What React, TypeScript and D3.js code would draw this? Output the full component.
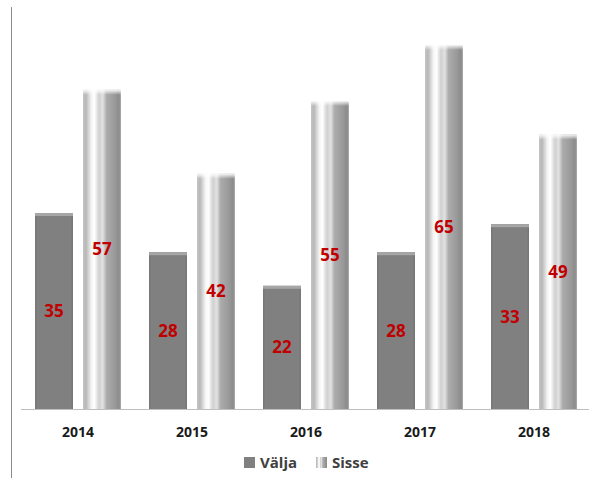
import React from 'react';
import * as d3 from 'd3';

const years = ['2014', '2015', '2016', '2017', '2018'];
const valja = [35, 28, 22, 28, 33];
const sisse = [57, 42, 55, 65, 49];
const seriesNames = ['Välja', 'Sisse'];

const W = 596;
const H = 479;
const FONT = '"Open Sans", "Noto Sans", sans-serif';

export default function App() {
  const baseY = 409;

  /* ── Scales ─────────────────────────────────────────────────── */
  const x = d3.scaleBand<string>().domain(years).range([21, 591]).paddingInner(0).paddingOuter(0);
  const y = d3.scaleLinear().domain([0, 65]).range([baseY, 45]);

  const step = x.bandwidth();
  const barW = 38;
  const gap = 10;

  return (
    <svg width={W} height={H} style={{ position: 'absolute', left: 0, top: 0, background: '#fff' }}>
      <defs>
        <linearGradient id="cyl" x1="0" x2="1" y1="0" y2="0">
          <stop offset="0" stopColor="#c4c4c4" />
          <stop offset="0.08" stopColor="#b8b8b8" />
          <stop offset="0.22" stopColor="#f4f4f4" />
          <stop offset="0.3" stopColor="#ffffff" />
          <stop offset="0.42" stopColor="#d0d0d0" />
          <stop offset="0.52" stopColor="#e2e2e2" />
          <stop offset="0.62" stopColor="#acacac" />
          <stop offset="0.85" stopColor="#989898" />
          <stop offset="0.95" stopColor="#8a8a8a" />
          <stop offset="1" stopColor="#adadad" />
        </linearGradient>
        <linearGradient id="cylTop" x1="0" x2="0" y1="0" y2="1">
          <stop offset="0" stopColor="#ffffff" stopOpacity="0.9" />
          <stop offset="1" stopColor="#ffffff" stopOpacity="0" />
        </linearGradient>
        <linearGradient id="flat" x1="0" x2="1" y1="0" y2="0">
          <stop offset="0" stopColor="#747474" />
          <stop offset="0.06" stopColor="#808080" />
          <stop offset="0.94" stopColor="#808080" />
          <stop offset="1" stopColor="#747474" />
        </linearGradient>
      </defs>

      {/* frame line on the left */}
      <line x1={11.5} x2={11.5} y1={7} y2={478} stroke="#8c8c8c" strokeWidth={1} />

      {years.map((yr, i) => {
        const cx = (x(yr) ?? 0) + step / 2;
        const vx = cx - gap / 2 - barW;
        const sx = cx + gap / 2;
        const vy = y(valja[i]);
        const sy = y(sisse[i]);
        return (
          <g key={yr}>
            {/* Välja */}
            <rect x={vx} y={vy} width={barW} height={baseY - vy} fill="url(#flat)" />
            <rect x={vx} y={vy} width={barW} height={3} fill="#a6a6a6" />
            {/* Sisse */}
            <rect x={sx} y={sy} width={barW} height={baseY - sy} fill="url(#cyl)" />
            <rect x={sx} y={sy} width={barW} height={5} fill="url(#cylTop)" />
            <text
              x={vx + barW / 2}
              y={(vy + baseY) / 2}
              dy="0.35em"
              textAnchor="middle"
              fontFamily={FONT}
              fontWeight={700}
              fontSize={17}
              fill="#c00000"
            >
              {valja[i]}
            </text>
            <text
              x={sx + barW / 2}
              y={(sy + baseY) / 2}
              dy="0.35em"
              textAnchor="middle"
              fontFamily={FONT}
              fontWeight={700}
              fontSize={17}
              fill="#c00000"
            >
              {sisse[i]}
            </text>
            <text
              x={cx}
              y={432}
              dy="0.35em"
              textAnchor="middle"
              fontFamily={FONT}
              fontWeight={700}
              fontSize={14}
              fill="#1a1a1a"
            >
              {yr}
            </text>
          </g>
        );
      })}

      {/* baseline */}
      <line x1={21} x2={589} y1={baseY + 0.5} y2={baseY + 0.5} stroke="#bfbfbf" strokeWidth={1} />

      {/* legend */}
      <g>
        <rect x={244} y={457} width={11} height={11} fill="#808080" />
        <text x={260} y={463} dy="0.35em" fontFamily={FONT} fontWeight={700} fontSize={15} fill="#404040">
          {seriesNames[0]}
        </text>
        <rect x={316} y={457} width={11} height={11} fill="url(#cyl)" />
        <text x={332} y={463} dy="0.35em" fontFamily={FONT} fontWeight={700} fontSize={15} fill="#404040">
          {seriesNames[1]}
        </text>
      </g>
    </svg>
  );
}
